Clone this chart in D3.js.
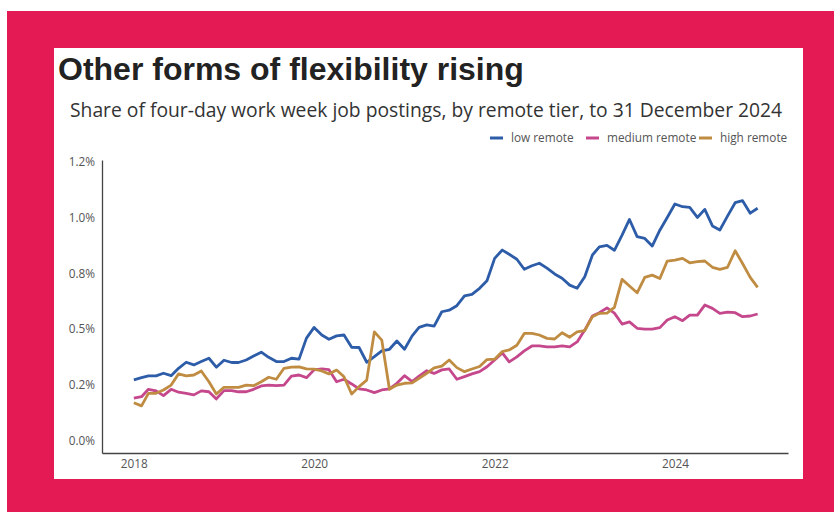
<!DOCTYPE html>
<html>
<head>
<meta charset="utf-8">
<script src="https://cdn.jsdelivr.net/npm/d3@7"></script>
<style>
  html, body { margin: 0; padding: 0; background: #fff; }
  svg { display: block; }
</style>
</head>
<body>
<svg id="chart" width="839" height="512"></svg>
<script>
// Monthly observations, January 2018 to December 2024
const months = d3.timeMonth.range(new Date(2018, 0, 1), new Date(2025, 0, 1));

const seriesNames = ["low remote", "medium remote", "high remote"];

// Share of postings (%) for each remote tier
const lowRemote = [
  0.273, 0.283, 0.291, 0.291, 0.303, 0.292, 0.325, 0.352, 0.340, 0.355, 0.370, 0.330,
  0.361, 0.351, 0.351, 0.362, 0.380, 0.397, 0.374, 0.355, 0.355, 0.370, 0.366, 0.460,
  0.508, 0.474, 0.455, 0.470, 0.474, 0.419, 0.418, 0.352, 0.377, 0.403, 0.410, 0.447,
  0.410, 0.470, 0.508, 0.519, 0.514, 0.578, 0.585, 0.605, 0.649, 0.656, 0.683, 0.717,
  0.817, 0.854, 0.835, 0.813, 0.768, 0.784, 0.795, 0.773, 0.747, 0.728, 0.697, 0.683,
  0.735, 0.832, 0.868, 0.875, 0.853, 0.921, 0.991, 0.914, 0.906, 0.872, 0.943, 1.000,
  1.060, 1.048, 1.045, 1.000, 1.036, 0.962, 0.944, 1.006, 1.066, 1.075, 1.019, 1.041
];
const mediumRemote = [
  0.191, 0.198, 0.231, 0.224, 0.203, 0.231, 0.218, 0.213, 0.206, 0.224, 0.220, 0.188,
  0.225, 0.225, 0.220, 0.220, 0.231, 0.246, 0.250, 0.247, 0.250, 0.290, 0.295, 0.283,
  0.318, 0.322, 0.319, 0.265, 0.276, 0.255, 0.233, 0.228, 0.216, 0.228, 0.233, 0.258,
  0.292, 0.265, 0.290, 0.314, 0.302, 0.318, 0.322, 0.276, 0.288, 0.300, 0.310, 0.332,
  0.362, 0.394, 0.354, 0.376, 0.403, 0.425, 0.425, 0.421, 0.421, 0.425, 0.421, 0.443,
  0.496, 0.559, 0.574, 0.595, 0.572, 0.523, 0.533, 0.504, 0.500, 0.500, 0.507, 0.541,
  0.556, 0.538, 0.563, 0.563, 0.608, 0.593, 0.571, 0.576, 0.574, 0.556, 0.559, 0.568
];
const highRemote = [
  0.171, 0.157, 0.213, 0.213, 0.228, 0.250, 0.300, 0.291, 0.295, 0.313, 0.265, 0.210,
  0.240, 0.240, 0.240, 0.250, 0.247, 0.265, 0.285, 0.276, 0.325, 0.330, 0.331, 0.322,
  0.321, 0.313, 0.300, 0.317, 0.287, 0.210, 0.243, 0.272, 0.488, 0.451, 0.231, 0.250,
  0.258, 0.260, 0.280, 0.302, 0.327, 0.335, 0.362, 0.328, 0.310, 0.322, 0.333, 0.364,
  0.366, 0.400, 0.407, 0.428, 0.481, 0.481, 0.474, 0.459, 0.456, 0.484, 0.464, 0.488,
  0.494, 0.556, 0.571, 0.572, 0.598, 0.723, 0.693, 0.663, 0.732, 0.742, 0.727, 0.805,
  0.809, 0.817, 0.797, 0.802, 0.805, 0.777, 0.768, 0.777, 0.851, 0.794, 0.732, 0.687
];

const yTickValues = [0, 0.25, 0.5, 0.75, 1.0, 1.25];
const yTickLabels = ["0.0%", "0.2%", "0.5%", "0.8%", "1.0%", "1.2%"];
const xTickValues = [new Date(2018, 0, 1), new Date(2020, 0, 1), new Date(2022, 0, 1), new Date(2024, 0, 1)];

const colors = { "low remote": "#2d5ca8", "medium remote": "#c5478c", "high remote": "#bf8c42" };

const series = [
  { name: "low remote", values: lowRemote },
  { name: "medium remote", values: mediumRemote },
  { name: "high remote", values: highRemote }
];

const svg = d3.select("#chart");

// Crimson frame and white card
svg.append("rect").attr("x", 7).attr("y", 11).attr("width", 827).attr("height", 501).attr("fill", "#e31a54");
svg.append("rect").attr("x", 54).attr("y", 48).attr("width", 749).attr("height", 431).attr("fill", "#ffffff");

svg.append("text")
  .attr("x", 58).attr("y", 80)
  .attr("font-family", "'Liberation Sans', Arial, sans-serif")
  .attr("font-weight", "bold")
  .attr("font-size", 32)
  .attr("fill", "#222")
  .text("Other forms of flexibility rising");

svg.append("text")
  .attr("x", 70).attr("y", 117)
  .attr("font-family", "'Open Sans', sans-serif")
  .attr("font-size", 19.3)
  .attr("fill", "#333")
  .text("Share of four-day work week job postings, by remote tier, to 31 December 2024");

// Scales
const x = d3.scaleTime()
  .domain([new Date(2017, 7, 25), new Date(2025, 3, 3)])
  .range([102, 788]);
const y = d3.scaleLinear()
  .domain([-0.054, 1.257])
  .range([453, 160]);

// Axes
const xAxis = svg.append("g")
  .attr("transform", "translate(0,453)")
  .call(d3.axisBottom(x).tickValues(xTickValues).tickSize(0).tickPadding(7).tickFormat(d3.timeFormat("%Y")));
xAxis.select(".domain").attr("stroke", "#444").attr("stroke-width", 1.3);
xAxis.selectAll("text")
  .attr("font-family", "'Open Sans', sans-serif").attr("font-size", 11.8).attr("fill", "#555");

const yAxis = svg.append("g")
  .attr("transform", "translate(102,0)")
  .call(d3.axisLeft(y).tickValues(yTickValues).tickSize(0).tickPadding(7)
    .tickFormat((d, i) => yTickLabels[i]));
yAxis.select(".domain").attr("stroke", "#444").attr("stroke-width", 1.3);
yAxis.selectAll("text")
  .attr("font-family", "'Open Sans', sans-serif").attr("font-size", 11.8).attr("fill", "#555");

// Lines
const line = d3.line()
  .x((d, i) => x(months[i]))
  .y(d => y(d));

svg.append("g").selectAll("path")
  .data(series)
  .join("path")
  .attr("d", s => line(s.values))
  .attr("fill", "none")
  .attr("stroke", s => colors[s.name])
  .attr("stroke-width", 2.8)
  .attr("stroke-linejoin", "round");

// Legend
const legendX = [490, 586, 699];
const legend = svg.append("g");
seriesNames.forEach((name, i) => {
  const g = legend.append("g").attr("transform", `translate(${legendX[i]},138)`);
  g.append("line").attr("x1", 0).attr("x2", 13).attr("y1", 0).attr("y2", 0)
    .attr("stroke", colors[name]).attr("stroke-width", 3);
  g.append("text").attr("x", 21).attr("y", 4)
    .attr("font-family", "'Open Sans', sans-serif").attr("font-size", 11.8).attr("fill", "#555")
    .text(name);
});
</script>
</body>
</html>
